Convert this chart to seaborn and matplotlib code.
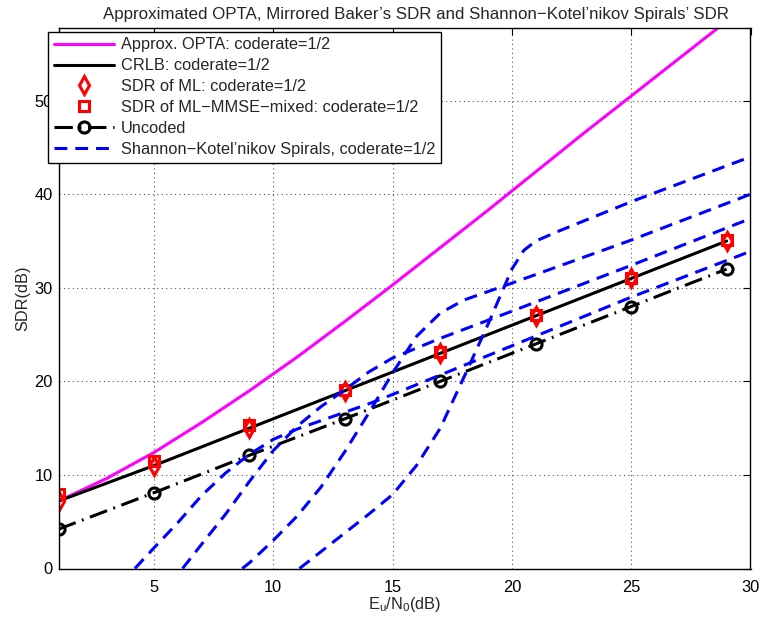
import numpy as np
import pandas as pd
import matplotlib
matplotlib.use("Agg")
import matplotlib.pyplot as plt
import seaborn as sns

# ---- data -------------------------------------------------------------
snr_marks = [1, 5, 9, 13, 17, 21, 25, 29]
crlb = [7.2, 11.0, 15.0, 19.0, 23.0, 27.0, 31.0, 35.0]
sdr_ml = [7.2, 11.0, 15.0, 19.0, 23.0, 27.0, 31.0, 35.0]
sdr_mixed = [8.0, 11.5, 15.3, 19.1, 23.1, 27.1, 31.1, 35.1]
uncoded = [4.2, 8.1, 12.1, 16.0, 20.0, 24.0, 28.0, 32.0]

opta_snr = [1, 3, 5, 7, 9, 11, 13, 15, 17, 19, 21, 23, 25, 27, 29, 30]
opta = [7.2, 9.6, 12.4, 15.6, 19.0, 22.6, 26.4, 30.3, 34.3, 38.3, 42.4,
        46.5, 50.5, 54.5, 58.5, 60.5]

spiral1_snr = [4.2, 5, 6, 7, 8, 9, 10, 11, 12, 13, 14, 15, 20, 25, 30]
spiral1 = [0, 2.2, 4.9, 7.8, 10.2, 12.2, 13.8, 14.9, 15.8, 16.7, 17.6, 18.6,
           23.8, 29.0, 33.9]
spiral2_snr = [6.2, 7, 8, 9, 10, 11, 12, 13, 14, 15, 17, 20, 25, 30]
spiral2 = [0, 2.6, 5.8, 9.3, 12.6, 15.2, 17.3, 19.1, 21.0, 22.5, 24.6, 27.5,
           32.4, 37.4]
spiral3_snr = [8.7, 9, 10, 11, 12, 13, 14, 15, 16, 17, 18, 20, 25, 30]
spiral3 = [0, 0.6, 3.0, 5.6, 8.7, 12.5, 16.6, 20.9, 24.8, 27.3, 28.7, 30.5,
           35.1, 40.0]
spiral4_snr = [11.1, 12, 13, 14, 15, 16, 17, 18, 19, 20, 20.5, 21, 22, 25, 30]
spiral4 = [0, 1.8, 3.8, 5.8, 7.9, 11.0, 15.0, 20.5, 26.1, 32.0, 34.0, 35.0,
           36.1, 39.2, 44.0]

xticks = [5, 10, 15, 20, 25, 30]
yticks = [0, 10, 20, 30, 40, 50]

labels = [
    "Approx. OPTA: coderate=1/2",
    "CRLB: coderate=1/2",
    "SDR of ML: coderate=1/2",
    "SDR of ML\u2212MMSE\u2212mixed: coderate=1/2",
    "Uncoded",
    "Shannon\u2212Kotel\u2019nikov Spirals, coderate=1/2",
]

spirals = pd.concat([
    pd.DataFrame({"snr": s, "sdr": v, "curve": i})
    for i, (s, v) in enumerate([(spiral1_snr, spiral1), (spiral2_snr, spiral2),
                                (spiral3_snr, spiral3), (spiral4_snr, spiral4)])
])

# ---- style ------------------------------------------------------------
sns.set_style("white")
plt.rcParams["font.family"] = ["Liberation Sans", "DejaVu Sans"]
plt.rcParams["mathtext.fontset"] = "custom"
plt.rcParams["mathtext.rm"] = "Liberation Sans"
FS = 11.8

fig = plt.figure(figsize=(7.61, 6.19), dpi=100)
ax = fig.add_axes([58.5 / 761, 50.5 / 619, 692 / 761, 540.8 / 619])

# ---- curves -----------------------------------------------------------
sns.lineplot(x=opta_snr, y=opta, ax=ax, color=(1, 0, 1), lw=2.2,
             label=labels[0], legend=False)
sns.lineplot(x=snr_marks, y=crlb, ax=ax, color="black", lw=2.2,
             label=labels[1], legend=False)
sns.lineplot(x=snr_marks, y=sdr_ml, ax=ax, linestyle="none", marker="d",
             markersize=9, markerfacecolor="none", markeredgecolor="red",
             markeredgewidth=2.2, color="red", label=labels[2], legend=False)
sns.lineplot(x=snr_marks, y=sdr_mixed, ax=ax, linestyle="none", marker="s",
             markersize=7, markerfacecolor="none", markeredgecolor="red",
             markeredgewidth=2.2, color="red", label=labels[3], legend=False)
sns.lineplot(x=snr_marks, y=uncoded, ax=ax, color="black", lw=2.2,
             linestyle=(0, (6.0, 2.2, 0.6, 2.2)), marker="o", markersize=8,
             markerfacecolor="none", markeredgecolor="black",
             markeredgewidth=2.2, label=labels[4], legend=False)
sns.lineplot(data=spirals, x="snr", y="sdr", units="curve", estimator=None,
             ax=ax, color=(0, 0, 1), lw=2.2, linestyle=(0, (4.2, 2.6)),
             sort=False, label=labels[5], legend=False)

# ---- axes -------------------------------------------------------------
ax.set_xlim(1, 30)
ax.set_ylim(0, 57.8)
ax.set_xticks(xticks)
ax.set_yticks(yticks)
ax.grid(True, linestyle=(0, (1, 3)), color="0.35", linewidth=0.8)
for sp in ax.spines.values():
    sp.set_color("black")
    sp.set_linewidth(1.0)
ax.tick_params(direction="in", length=5, width=0.8, top=True, right=True,
               labelsize=FS, colors="black")
ax.tick_params(axis="x", pad=8)
ax.tick_params(axis="y", pad=4)

ax.set_xlabel(r"$\mathrm{E_u/N_0}$(dB)", fontsize=FS, labelpad=0)
ax.set_ylabel("SDR(dB)", fontsize=FS, labelpad=3)
title = ax.set_title("Approximated OPTA, Mirrored Baker\u2019s SDR and "
                     "Shannon\u2212Kotel\u2019nikov Spirals\u2019 SDR",
                     fontsize=12.2, pad=6)
title.set_x((416 - 58.5) / 692)

# ---- legend -----------------------------------------------------------
handles, names = ax.get_legend_handles_labels()
seen = {}
for h, n in zip(handles, names):
    seen.setdefault(n, h)
leg = ax.legend([seen[n] for n in labels], labels, loc="upper left",
                bbox_to_anchor=(48 / 761, 1 - 31.7 / 619),
                bbox_transform=fig.transFigure, fontsize=FS, frameon=True,
                fancybox=False, framealpha=1, edgecolor="black",
                borderpad=0.35, labelspacing=0.36, handlelength=3.7,
                handletextpad=0.4, borderaxespad=0)
leg.get_frame().set_linewidth(1.0)

fig.savefig("out.png", dpi=100)
